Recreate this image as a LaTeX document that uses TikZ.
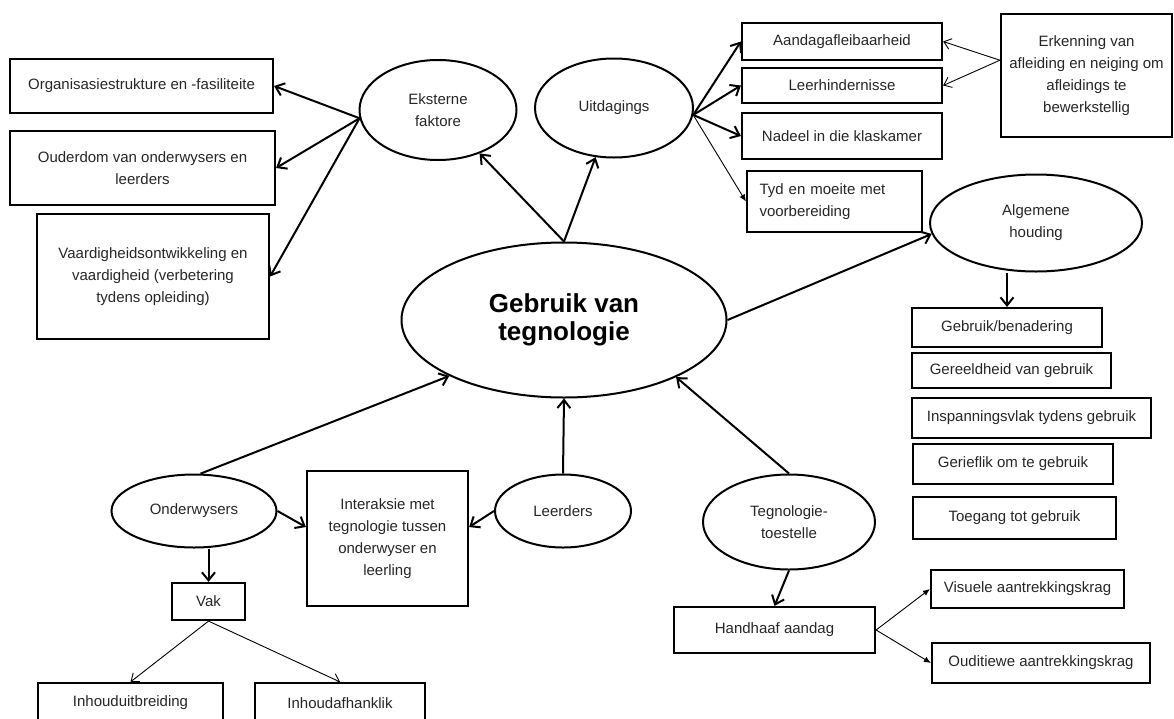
\documentclass[tikz,border=0pt]{standalone}
\usepackage{fontspec}
\setmainfont{Liberation Sans}
\usetikzlibrary{arrows.meta,shapes.geometric}
\newcommand{\lblfont}{\fontsize{15}{22}\selectfont}
\newcommand{\hubfont}{\fontsize{26}{28}\selectfont\bfseries}
\tikzset{
  box/.style={draw, line width=2.2pt, align=center, inner sep=2pt, font=\lblfont, text=black!85},
  oval/.style={draw, ellipse, line width=2pt, align=center, inner sep=0pt, font=\lblfont, text=black!85},
  ar/.style={-{Straight Barb[length=8pt,width=13pt]}, line width=2pt},
  thinar/.style={-{Straight Barb[length=7pt,width=11pt]}, line width=0.9pt},
  fillar/.style={-{Latex[length=7pt,width=6pt]}, line width=0.9pt},
}

\begin{document}
\begin{tikzpicture}[x=1pt, y=-1pt]
  \useasboundingbox (0,0) rectangle (1174,718);

  % centre
  \node[oval, font=\hubfont, text=black, minimum width=325pt, minimum height=155pt] (gebruik) at (564,320) {Gebruik van\\tegnologie};

  % left top: eksterne faktore
  \node[oval, minimum width=157pt, minimum height=100pt] (ekst) at (438,110) {Eksterne\\faktore};
  \node[box, minimum width=263pt, minimum height=54pt] (org) at (141.5,86) {Organisasiestrukture en -fasiliteite};
  \node[box, minimum width=265pt, minimum height=74pt] (ouder) at (142.5,168) {Ouderdom van onderwysers en\\leerders};
  \node[box, minimum width=232pt, minimum height=125pt] (vaard) at (153,276.5) {Vaardigheidsontwikkeling en\\vaardigheid (verbetering\\tydens opleiding)};

  % right top: uitdagings
  \node[oval, minimum width=158pt, minimum height=99pt] (uitd) at (614,108) {Uitdagings};
  \node[box, minimum width=200pt, minimum height=37pt] (aandag) at (842,41.5) {Aandagafleibaarheid};
  \node[box, minimum width=200pt, minimum height=35pt] (leerh) at (842,85.5) {Leerhindernisse};
  \node[box, minimum width=200pt, minimum height=46pt] (nadeel) at (842,136) {Nadeel in die klaskamer};
  \node[box, minimum width=175pt, minimum height=61pt, text width=150pt, align=left] (tyd) at (834.5,201.5) {Tyd en moeite met\\voorbereiding};
  \node[box, minimum width=171pt, minimum height=123pt] (erken) at (1086.5,75.5) {Erkenning van\\afleiding en neiging om\\afleidings te\\bewerkstellig};

  % algemene houding
  \node[oval, minimum width=212pt, minimum height=97pt] (alg) at (1036,223) {Algemene\\houding};
  \node[box, minimum width=190pt, minimum height=39pt] (gebrben) at (1007,327.5) {Gebruik/benadering};
  \node[box, minimum width=199pt, minimum height=35pt] (gereeld) at (1011.5,370.5) {Gereeldheid van gebruik};
  \node[box, minimum width=239pt, minimum height=40pt] (inspan) at (1031.5,418) {Inspanningsvlak tydens gebruik};
  \node[box, minimum width=200pt, minimum height=40pt] (gerief) at (1013,464) {Gerieflik om te gebruik};
  \node[box, minimum width=203pt, minimum height=42pt] (toegang) at (1014.5,518) {Toegang tot gebruik};

  % onder: onderwysers, leerders, toestelle
  \node[oval, minimum width=165pt, minimum height=73pt] (onderw) at (194,511) {Onderwysers};
  \node[oval, minimum width=136pt, minimum height=73pt] (leerd) at (563,511) {Leerders};
  \node[box, minimum width=161pt, minimum height=135pt] (interaksie) at (387.5,538.5) {Interaksie met\\tegnologie tussen\\onderwyser en\\leerling};
  \node[box, minimum width=73pt, minimum height=37pt] (vak) at (208.5,601.5) {Vak};
  \node[box, minimum width=185pt, minimum height=40pt] (inhuit) at (130.5,703) {Inhouduitbreiding};
  \node[box, minimum width=170pt, minimum height=40pt] (inhafh) at (340,703) {Inhoudafhanklik};

  \node[oval, minimum width=172pt, minimum height=95pt] (toestel) at (789,522) {Tegnologie-\\toestelle};
  \node[box, minimum width=201pt, minimum height=46pt] (handh) at (774.5,630) {Handhaaf aandag};
  \node[box, minimum width=193pt, minimum height=38pt] (visuele) at (1027.5,589) {Visuele aantrekkingskrag};
  \node[box, minimum width=218pt, minimum height=40pt] (oudit) at (1041,663) {Ouditiewe aantrekkingskrag};

  % pyle
  \draw[ar] (gebruik.north) -- (ekst);
  \draw[ar] (gebruik.north) -- (uitd);
  \draw[ar] (ekst.186) -- (org.east);
  \draw[ar] (ekst.186) -- (ouder.east);
  \draw[ar] (ekst.186) -- (vaard.east);
  \draw[ar] (uitd.-5) -- (aandag.west);
  \draw[ar] (uitd.-5) -- (leerh.west);
  \draw[ar] (uitd.-5) -- (nadeel.west);
  \draw[fillar] (uitd.-5) -- (tyd.west);
  \draw[thinar] (erken.170) -- (aandag.east);
  \draw[thinar] (erken.170) -- (leerh.east);
  \draw[ar] (gebruik.east) -- (alg.186);
  \draw[ar] (gebrben.north |- alg.south) -- (gebrben.north);

  \draw[ar] (onderw.80) -- (gebruik.206);
  \draw[ar] (onderw.east) -- (interaksie.172);
  \draw[ar] (leerd.west) -- (interaksie.8);
  \draw[ar] (leerd.north) -- (gebruik.south);
  \draw[ar] (toestel.north) -- (gebruik.-27);
  \draw[ar] (vak.north |- onderw.south) -- (vak.north);
  \draw[thinar] (vak.south) -- (inhuit.north);
  \draw[thinar] (vak.south) -- (inhafh.north);
  \draw[ar] (toestel.south) -- (handh.north);
  \draw[fillar] (handh.east) -- (visuele.west);
  \draw[fillar] (handh.east) -- (oudit.west);
\end{tikzpicture}
\end{document}
